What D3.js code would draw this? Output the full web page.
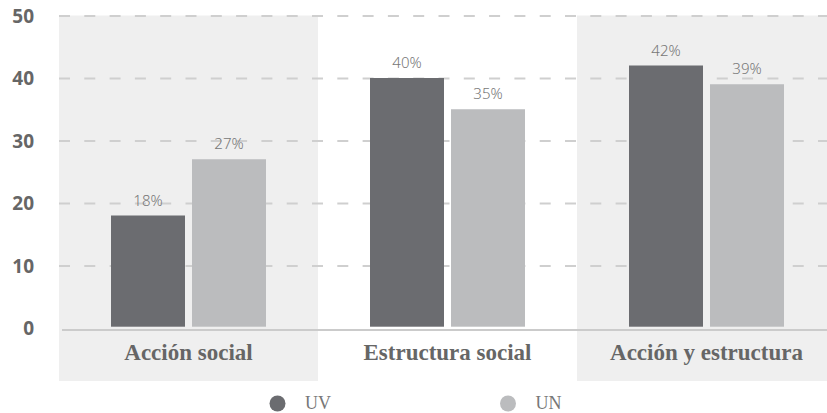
<!DOCTYPE html>
<html><head><meta charset="utf-8">
<script src="https://cdn.jsdelivr.net/npm/d3@7"></script>
<style>
html,body{margin:0;padding:0;background:#fff;overflow:hidden;}
svg{display:block;}
</style></head>
<body>
<svg id="chart" width="827" height="413"></svg>
<script>
const categories = ["Acción social", "Estructura social", "Acción y estructura"];
const seriesNames = ["UV", "UN"];
const uvValues = [18, 40, 42];
const unValues = [27, 35, 39];
const yTicks = [0, 10, 20, 30, 40, 50];
const colors = ["#6b6c70", "#bbbcbe"];

const svg = d3.select("#chart");
const x = d3.scaleBand().domain(categories).range([59, 836]).paddingInner(0).paddingOuter(0);
const y = d3.scaleLinear().domain([0, 50]).range([328, 15.5]);

// background bands for 1st and 3rd group
svg.append("g").selectAll("rect").data(categories.filter((d, i) => i % 2 === 0)).join("rect")
  .attr("x", d => x(d)).attr("y", y(50))
  .attr("width", x.bandwidth()).attr("height", 381 - y(50))
  .attr("fill", "#efefef");

// gridlines
const yAxis = d3.axisLeft(y).tickValues(yTicks.filter(t => t > 0)).tickSize(-(827 - 59)).tickFormat("");
const gGrid = svg.append("g").attr("transform", "translate(59,0)").call(yAxis);
gGrid.select(".domain").remove();
gGrid.selectAll(".tick line").attr("stroke", "#cfcfcf").attr("stroke-width", 2).attr("stroke-dasharray", "11,14.3");

// baseline
svg.append("line").attr("x1", 62).attr("x2", 827).attr("y1", y(0) + 2).attr("y2", y(0) + 2)
  .attr("stroke", "#cbcbcb").attr("stroke-width", 2);

// y tick labels
svg.append("g").selectAll("text").data(yTicks).join("text")
  .attr("x", 34).attr("y", d => y(d) + 7)
  .attr("text-anchor", "end")
  .attr("font-family", "'Open Sans', sans-serif").attr("font-weight", "bold")
  .attr("font-size", 19).attr("fill", "#666")
  .text(d => d);

// bars
const barW = 74, gap = 7;
const rows = categories.map((c, i) => ({cat: c, vals: [uvValues[i], unValues[i]]}));
const groups = svg.append("g").selectAll("g").data(rows).join("g");
groups.each(function(r) {
  const cx = x(r.cat) + x.bandwidth() / 2;
  const g = d3.select(this);
  r.vals.forEach((v, k) => {
    const bx = k === 0 ? cx - gap / 2 - barW : cx + gap / 2;
    g.append("rect").attr("x", bx).attr("y", y(v))
      .attr("width", barW).attr("height", y(0) - 1.3 - y(v))
      .attr("fill", colors[k]);
    g.append("text").attr("x", bx + barW / 2).attr("y", y(v) - 10)
      .attr("text-anchor", "middle")
      .attr("font-family", "'Noto Sans', sans-serif").attr("font-weight", 300)
      .attr("font-size", 15).attr("fill", "#777")
      .text(v + "%");
  });
  g.append("text").attr("x", cx).attr("y", 360)
    .attr("text-anchor", "middle")
    .attr("font-family", "'Liberation Serif', serif").attr("font-weight", "bold")
    .attr("font-size", 23).attr("fill", "#666")
    .text(r.cat);
});

// legend
const legendX = [277.5, 508];
const lg = svg.append("g").selectAll("g").data(seriesNames).join("g")
  .attr("transform", (d, i) => `translate(${legendX[i]},403.5)`);
lg.append("circle").attr("r", 8).attr("fill", (d, i) => colors[i]);
lg.append("text").attr("x", 27.5).attr("y", 5)
  .attr("font-family", "'Liberation Serif', serif").attr("font-size", 18).attr("fill", "#777")
  .text(d => d);
</script>
</body></html>
